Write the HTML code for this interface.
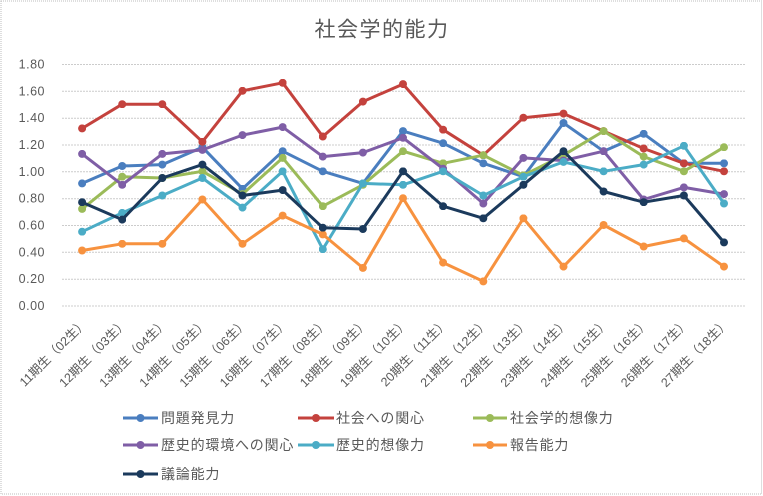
<!DOCTYPE html>
<html>
<head>
<meta charset="utf-8">
<style>
  html,body{margin:0;padding:0;background:#fff;}
  svg{display:block;}
  text{font-family:"Liberation Sans","Noto Sans CJK JP",sans-serif;fill:#595959;}
</style>
</head>
<body>
<svg width="763" height="496" viewBox="0 0 763 496" xmlns="http://www.w3.org/2000/svg">
  <defs>
    <marker id="mb" viewBox="0 0 10 10" refX="5" refY="5" markerWidth="8" markerHeight="8" markerUnits="userSpaceOnUse"><circle cx="5" cy="5" r="5" fill="#4a7ebf"/></marker>
    <marker id="mr" viewBox="0 0 10 10" refX="5" refY="5" markerWidth="8" markerHeight="8" markerUnits="userSpaceOnUse"><circle cx="5" cy="5" r="5" fill="#c4423d"/></marker>
    <marker id="mg" viewBox="0 0 10 10" refX="5" refY="5" markerWidth="8" markerHeight="8" markerUnits="userSpaceOnUse"><circle cx="5" cy="5" r="5" fill="#9bbb59"/></marker>
    <marker id="mp" viewBox="0 0 10 10" refX="5" refY="5" markerWidth="8" markerHeight="8" markerUnits="userSpaceOnUse"><circle cx="5" cy="5" r="5" fill="#7f5ea6"/></marker>
    <marker id="mc" viewBox="0 0 10 10" refX="5" refY="5" markerWidth="8" markerHeight="8" markerUnits="userSpaceOnUse"><circle cx="5" cy="5" r="5" fill="#4bacc6"/></marker>
    <marker id="mo" viewBox="0 0 10 10" refX="5" refY="5" markerWidth="8" markerHeight="8" markerUnits="userSpaceOnUse"><circle cx="5" cy="5" r="5" fill="#f7923f"/></marker>
    <marker id="mn" viewBox="0 0 10 10" refX="5" refY="5" markerWidth="8" markerHeight="8" markerUnits="userSpaceOnUse"><circle cx="5" cy="5" r="5" fill="#1b3a5c"/></marker>
  </defs>

  <!-- outer border -->
  <rect x="1" y="1" width="760.5" height="493" fill="none" stroke="#bdbdbd" stroke-width="1" stroke-dasharray="1 1"/>

  <!-- title -->
  <text x="382" y="36.5" text-anchor="middle" font-size="21" letter-spacing="1.5">社会学的能力</text>

  <!-- gridlines -->
  <g stroke="#cccccc" stroke-width="1" stroke-dasharray="2 1">
    <line x1="62" y1="64.5" x2="745" y2="64.5"/>
    <line x1="62" y1="91.3" x2="745" y2="91.3"/>
    <line x1="62" y1="118.2" x2="745" y2="118.2"/>
    <line x1="62" y1="145" x2="745" y2="145"/>
    <line x1="62" y1="171.8" x2="745" y2="171.8"/>
    <line x1="62" y1="198.7" x2="745" y2="198.7"/>
    <line x1="62" y1="225.5" x2="745" y2="225.5"/>
    <line x1="62" y1="252.3" x2="745" y2="252.3"/>
    <line x1="62" y1="279.2" x2="745" y2="279.2"/>
    <line x1="62" y1="306" x2="745" y2="306"/>
  </g>

  <!-- y labels -->
  <g font-size="12.5" text-anchor="end" letter-spacing="0.5">
    <text x="45" y="68.5">1.80</text>
    <text x="45" y="95.3">1.60</text>
    <text x="45" y="122.2">1.40</text>
    <text x="45" y="149">1.20</text>
    <text x="45" y="175.8">1.00</text>
    <text x="45" y="202.7">0.80</text>
    <text x="45" y="229.5">0.60</text>
    <text x="45" y="256.3">0.40</text>
    <text x="45" y="283.2">0.20</text>
    <text x="45" y="310">0.00</text>
  </g>

  <!-- x labels -->
  <g font-size="12.5" text-anchor="end">
    <text transform="translate(88,324) rotate(-45)">11期生（02生）</text>
    <text transform="translate(128.2,324) rotate(-45)">12期生（03生）</text>
    <text transform="translate(168.3,324) rotate(-45)">13期生（04生）</text>
    <text transform="translate(208.4,324) rotate(-45)">14期生（05生）</text>
    <text transform="translate(248.5,324) rotate(-45)">15期生（06生）</text>
    <text transform="translate(288.7,324) rotate(-45)">16期生（07生）</text>
    <text transform="translate(328.8,324) rotate(-45)">17期生（08生）</text>
    <text transform="translate(368.9,324) rotate(-45)">18期生（09生）</text>
    <text transform="translate(409,324) rotate(-45)">19期生（10生）</text>
    <text transform="translate(449.1,324) rotate(-45)">20期生（11生）</text>
    <text transform="translate(489.3,324) rotate(-45)">21期生（12生）</text>
    <text transform="translate(529.4,324) rotate(-45)">22期生（13生）</text>
    <text transform="translate(569.5,324) rotate(-45)">23期生（14生）</text>
    <text transform="translate(609.6,324) rotate(-45)">24期生（15生）</text>
    <text transform="translate(649.7,324) rotate(-45)">25期生（16生）</text>
    <text transform="translate(689.9,324) rotate(-45)">26期生（17生）</text>
    <text transform="translate(730,324) rotate(-45)">27期生（18生）</text>
  </g>

  <!-- series -->
  <g fill="none" stroke-width="3" stroke-linejoin="round">
    <polyline stroke="#4a7ebf" marker-start="url(#mb)" marker-mid="url(#mb)" marker-end="url(#mb)"
      points="82.1,183.4 122.2,166.0 162.3,164.6 202.4,147.2 242.5,188.8 282.7,151.2 322.8,171.3 362.9,183.4 403.0,131.1 443.1,143.2 483.3,163.3 523.4,176.7 563.5,123.0 603.6,151.2 643.7,133.8 683.9,163.3 724.0,163.3"/>
    <polyline stroke="#c4423d" marker-start="url(#mr)" marker-mid="url(#mr)" marker-end="url(#mr)"
      points="82.1,128.4 122.2,104.2 162.3,104.2 202.4,141.8 242.5,90.8 282.7,82.8 322.8,136.5 362.9,101.6 403.0,84.1 443.1,129.7 483.3,155.2 523.4,117.7 563.5,113.6 603.6,131.1 643.7,148.5 683.9,163.3 724.0,171.3"/>
    <polyline stroke="#9bbb59" marker-start="url(#mg)" marker-mid="url(#mg)" marker-end="url(#mg)"
      points="82.1,208.9 122.2,176.7 162.3,178.0 202.4,171.3 242.5,194.1 282.7,157.9 322.8,206.2 362.9,184.8 403.0,151.2 443.1,163.3 483.3,155.2 523.4,175.4 563.5,155.2 603.6,131.1 643.7,156.6 683.9,171.3 724.0,147.2"/>
    <polyline stroke="#7f5ea6" marker-start="url(#mp)" marker-mid="url(#mp)" marker-end="url(#mp)"
      points="82.1,153.9 122.2,184.8 162.3,153.9 202.4,149.9 242.5,135.1 282.7,127.1 322.8,156.6 362.9,152.6 403.0,137.8 443.1,168.7 483.3,203.5 523.4,157.9 563.5,160.6 603.6,151.2 643.7,199.5 683.9,187.4 724.0,194.1"/>
    <polyline stroke="#4bacc6" marker-start="url(#mc)" marker-mid="url(#mc)" marker-end="url(#mc)"
      points="82.1,231.7 122.2,212.9 162.3,195.5 202.4,178.0 242.5,207.6 282.7,171.3 322.8,249.2 362.9,183.4 403.0,184.8 443.1,171.3 483.3,195.5 523.4,176.7 563.5,161.9 603.6,171.3 643.7,164.6 683.9,145.8 724.0,203.5"/>
    <polyline stroke="#f7923f" marker-start="url(#mo)" marker-mid="url(#mo)" marker-end="url(#mo)"
      points="82.1,250.5 122.2,243.8 162.3,243.8 202.4,199.5 242.5,243.8 282.7,215.6 322.8,234.4 362.9,267.9 403.0,198.2 443.1,262.6 483.3,281.4 523.4,218.3 563.5,266.6 603.6,225.0 643.7,246.5 683.9,238.4 724.0,266.6"/>
    <polyline stroke="#1b3a5c" marker-start="url(#mn)" marker-mid="url(#mn)" marker-end="url(#mn)"
      points="82.1,202.2 122.2,219.6 162.3,178.0 202.4,164.6 242.5,195.5 282.7,190.1 322.8,227.7 362.9,229.0 403.0,171.3 443.1,206.2 483.3,218.3 523.4,184.8 563.5,151.2 603.6,191.5 643.7,202.2 683.9,195.5 724.0,242.4"/>
  </g>

  <!-- legend -->
  <g stroke-width="3">
    <line x1="123" y1="418" x2="158" y2="418" stroke="#4a7ebf"/><circle cx="140.5" cy="418" r="4" fill="#4a7ebf"/>
    <line x1="298" y1="418" x2="334" y2="418" stroke="#c4423d"/><circle cx="316" cy="418" r="4" fill="#c4423d"/>
    <line x1="473" y1="418" x2="507" y2="418" stroke="#9bbb59"/><circle cx="490" cy="418" r="4" fill="#9bbb59"/>
    <line x1="123" y1="445" x2="158" y2="445" stroke="#7f5ea6"/><circle cx="140.5" cy="445" r="4" fill="#7f5ea6"/>
    <line x1="298" y1="445" x2="334" y2="445" stroke="#4bacc6"/><circle cx="316" cy="445" r="4" fill="#4bacc6"/>
    <line x1="473" y1="445" x2="507" y2="445" stroke="#f7923f"/><circle cx="490" cy="445" r="4" fill="#f7923f"/>
    <line x1="123" y1="474" x2="158" y2="474" stroke="#1b3a5c"/><circle cx="140.5" cy="474" r="4" fill="#1b3a5c"/>
  </g>
  <g font-size="14" letter-spacing="0.8">
    <text x="161" y="423">問題発見力</text>
    <text x="336" y="423">社会への関心</text>
    <text x="510" y="423">社会学的想像力</text>
    <text x="161" y="450">歴史的環境への関心</text>
    <text x="336" y="450">歴史的想像力</text>
    <text x="510" y="450">報告能力</text>
    <text x="161" y="479">議論能力</text>
  </g>
</svg>
</body>
</html>
